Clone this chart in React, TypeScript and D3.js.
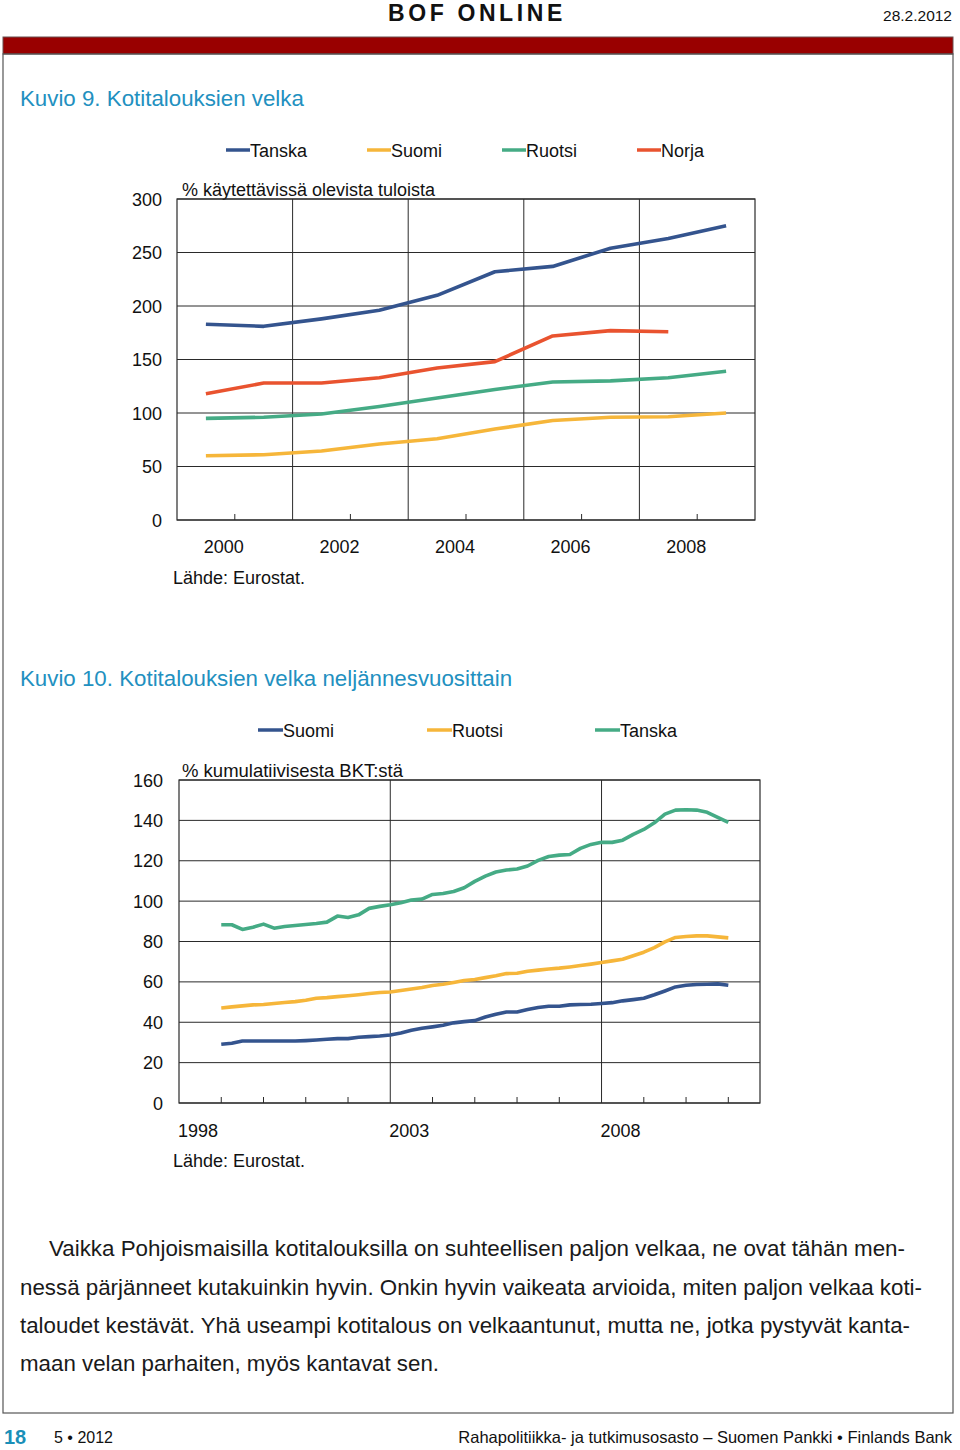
import React from "react";
import * as d3 from "d3";

// ---------- Chart 1 data (annual, % of disposable income) ----------
const years1 = ["2000", "2001", "2002", "2003", "2004", "2005", "2006", "2007", "2008", "2009"];
const xLabels1 = ["2000", "2002", "2004", "2006", "2008"];
const yTicks1 = [0, 50, 100, 150, 200, 250, 300];
const tanska1 = [183, 181, 188, 196, 210, 232, 237, 254, 263, 275];
const suomi1 = [60, 61, 64.5, 71, 76, 85, 93, 96, 96.5, 100];
const ruotsi1 = [95, 96, 99, 106, 114, 122, 129, 130, 133, 139];
const norja1 = [118, 128, 128, 133, 142, 148, 172, 177, 176];

// ---------- Chart 2 data (quarterly, % of cumulative GDP), 1999Q1..2011Q1 ----------
const xLabels2 = ["1998", "2003", "2008"];
const yTicks2 = [0, 20, 40, 60, 80, 100, 120, 140, 160];
const suomi2 = [
  29.1, 29.6, 30.7, 30.7, 30.7, 30.7, 30.7, 30.7, 30.9, 31.2, 31.6, 31.9, 31.9, 32.6, 32.9, 33.2, 33.7,
  34.7, 36.0, 37.0, 37.7, 38.5, 39.7, 40.3, 40.8, 42.6, 44.0, 45.1, 45.1, 46.3, 47.3, 47.9, 47.9, 48.6, 48.8, 48.9, 49.3,
  49.7, 50.6, 51.2, 51.9, 53.6, 55.5, 57.5, 58.3, 58.7, 58.8, 59.0, 58.3,
];
const ruotsi2 = [
  47.1, 47.6, 48.1, 48.6, 48.8, 49.3, 49.8, 50.2, 50.9, 51.9, 52.2, 52.7, 53.1, 53.6, 54.2, 54.7, 55.0,
  55.7, 56.5, 57.2, 58.2, 58.8, 59.7, 60.7, 61.2, 62.1, 63.0, 64.1, 64.3, 65.3, 65.8, 66.4, 66.8, 67.4, 68.1, 68.8, 69.6,
  70.4, 71.2, 72.9, 74.7, 77.0, 79.8, 82.0, 82.5, 82.8, 82.8, 82.3, 81.8,
];
const tanska2 = [
  88.3, 88.3, 86.0, 87.1, 88.6, 86.6, 87.4, 87.9, 88.4, 88.9, 89.6, 92.6, 91.9, 93.2, 96.4, 97.4, 98.2,
  99.2, 100.5, 101.0, 103.3, 103.8, 104.8, 106.6, 109.8, 112.4, 114.4, 115.4, 115.9, 117.4, 120.2, 122.1, 122.8, 123.1, 126.1, 128.1, 129.2,
  129.1, 130.2, 133.1, 135.5, 138.8, 143.1, 145.1, 145.3, 145.1, 144.0, 141.5, 139.0,
];

const paragraph = [
  "Vaikka Pohjoismaisilla kotitalouksilla on suhteellisen paljon velkaa, ne ovat tähän men-",
  "nessä pärjänneet kutakuinkin hyvin. Onkin hyvin vaikeata arvioida, miten paljon velkaa koti-",
  "taloudet kestävät. Yhä useampi kotitalous on velkaantunut, mutta ne, jotka pystyvät kanta-",
  "maan velan parhaiten, myös kantavat sen.",
];

const C_BLUE = "#34548e";
const C_YELLOW = "#f6b63a";
const C_GREEN = "#45ab85";
const C_RED = "#e9532f";
const C_TITLE = "#2290c0";
const FONT = "'Liberation Sans', Arial, Helvetica, sans-serif";
const GRID = "#2a2a2a";

function Chart1() {
  const L = 177, R = 755, T = 199, B = 520;
  const x = d3.scaleBand<string>().domain(years1).range([L, R]).padding(0);
  const bw = x.bandwidth();
  const y = d3.scaleLinear().domain([0, 300]).range([B, T]);
  const line = d3
    .line<number>()
    .x((_, i) => (x(years1[i]) as number) + bw / 2)
    .y((d) => y(d));
  const series = [
    { name: "Tanska", data: tanska1, color: C_BLUE, lx: 226 },
    { name: "Suomi", data: suomi1, color: C_YELLOW, lx: 367 },
    { name: "Ruotsi", data: ruotsi1, color: C_GREEN, lx: 502 },
    { name: "Norja", data: norja1, color: C_RED, lx: 637 },
  ];
  return (
    <g fontFamily={FONT}>
      {series.map((s) => (
        <g key={s.name}>
          <line x1={s.lx} x2={s.lx + 24} y1={150} y2={150} stroke={s.color} strokeWidth={3.5} />
          <text x={s.lx + 24} y={156.5} fontSize={18} fill="#111">
            {s.name}
          </text>
        </g>
      ))}
      <text x={182} y={196} fontSize={18} fill="#111">
        % käytettävissä olevista tuloista
      </text>
      {yTicks1.map((t) => (
        <g key={t}>
          <line x1={L} x2={R} y1={y(t)} y2={y(t)} stroke={GRID} strokeWidth={1} />
          <text x={162} y={y(t) + 6.5} fontSize={18} textAnchor="end" fill="#111">
            {t}
          </text>
        </g>
      ))}
      {years1.slice(1).map((yr, i) => {
        const xx = x(yr) as number;
        const major = (i + 1) % 2 === 0;
        return (
          <line
            key={yr}
            x1={xx}
            x2={xx}
            y1={major ? T : B - 6}
            y2={B}
            stroke={GRID}
            strokeWidth={1}
          />
        );
      })}
      <rect x={L} y={T} width={R - L} height={B - T} fill="none" stroke={GRID} strokeWidth={1.2} />
      {series.map((s) => (
        <path key={s.name} d={line(s.data) || ""} fill="none" stroke={s.color} strokeWidth={3.6} strokeLinejoin="round" />
      ))}
      {xLabels1.map((lb) => (
        <text key={lb} x={(x(lb) as number) + bw - 11} y={553} fontSize={18} textAnchor="middle" fill="#111">
          {lb}
        </text>
      ))}
      <text x={173} y={584} fontSize={18} fill="#111">
        Lähde: Eurostat.
      </text>
    </g>
  );
}

function Chart2() {
  const L = 179, R = 760, T = 780, B = 1103;
  const startQ = 4; // first observation one year after the axis start
  const x = d3.scaleLinear().domain([0, 55]).range([L, R]);
  const y = d3.scaleLinear().domain([0, 160]).range([B, T]);
  const line = d3
    .line<number>()
    .x((_, i) => x(startQ + i))
    .y((d) => y(d));
  const tickQs = d3.range(4, 53, 4);
  const series = [
    { name: "Suomi", data: suomi2, color: C_BLUE, lx: 258 },
    { name: "Ruotsi", data: ruotsi2, color: C_YELLOW, lx: 427 },
    { name: "Tanska", data: tanska2, color: C_GREEN, lx: 595 },
  ];
  return (
    <g fontFamily={FONT}>
      {series.map((s) => (
        <g key={s.name}>
          <line x1={s.lx} x2={s.lx + 25} y1={730} y2={730} stroke={s.color} strokeWidth={3.5} />
          <text x={s.lx + 25} y={736.5} fontSize={18} fill="#111">
            {s.name}
          </text>
        </g>
      ))}
      <text x={182} y={777} fontSize={18.5} fill="#111">
        % kumulatiivisesta BKT:stä
      </text>
      {yTicks2.map((t) => (
        <g key={t}>
          <line x1={L} x2={R} y1={y(t)} y2={y(t)} stroke={GRID} strokeWidth={1} />
          <text x={163} y={y(t) + 6.5} fontSize={18} textAnchor="end" fill="#111">
            {t}
          </text>
        </g>
      ))}
      {tickQs.map((q) => {
        const major = q % 20 === 0;
        return (
          <line key={q} x1={x(q)} x2={x(q)} y1={major ? T : B - 6} y2={B} stroke={GRID} strokeWidth={1} />
        );
      })}
      <rect x={L} y={T} width={R - L} height={B - T} fill="none" stroke={GRID} strokeWidth={1.2} />
      {series.map((s) => (
        <path key={s.name} d={line(s.data) || ""} fill="none" stroke={s.color} strokeWidth={3.6} strokeLinejoin="round" />
      ))}
      {xLabels2.map((lb, i) => (
        <text key={lb} x={x(i * 20) - 1} y={1137} fontSize={18} fill="#111">
          {lb}
        </text>
      ))}
      <text x={173} y={1167} fontSize={18} fill="#111">
        Lähde: Eurostat.
      </text>
    </g>
  );
}

export default function App() {
  const paraX = [49, 20, 20, 20];
  const paraW = [856, 902, 890, 419];
  const paraY = [1256, 1295, 1333, 1371];
  return (
    <svg
      width={960}
      height={1450}
      viewBox="0 0 960 1450"
      style={{ position: "absolute", left: 0, top: 0, background: "#fff" }}
      fontFamily={FONT}
    >
      <rect x={0} y={0} width={960} height={1450} fill="#fff" />
      {/* header */}
      <text x={477} y={21} fontSize={23} fontWeight="bold" textAnchor="middle" letterSpacing={3.6} fill="#111">
        BOF ONLINE
      </text>
      <text x={952} y={21} fontSize={15.5} textAnchor="end" fill="#111">
        28.2.2012
      </text>
      <rect x={3} y={37} width={950} height={17} fill="#990000" stroke="#6a5050" strokeWidth={1} />
      <rect x={3} y={54} width={950} height={1359} fill="none" stroke="#555" strokeWidth={1.2} />

      <text x={20} y={106} fontSize={22.3} fill={C_TITLE}>
        Kuvio 9. Kotitalouksien velka
      </text>
      <Chart1 />

      <text x={20} y={686} fontSize={22.3} fill={C_TITLE}>
        Kuvio 10. Kotitalouksien velka neljännesvuosittain
      </text>
      <Chart2 />

      {paragraph.map((ln, i) => (
        <text
          key={i}
          x={paraX[i]}
          y={paraY[i]}
          fontSize={22}
          fill="#1a1a1a"
          textLength={paraW[i]}
          lengthAdjust="spacingAndGlyphs"
        >
          {ln}
        </text>
      ))}

      {/* footer */}
      <text x={4} y={1444} fontSize={20} fontWeight="bold" fill="#1a8fb8">
        18
      </text>
      <text x={54} y={1443} fontSize={16} fill="#111">
        5 • 2012
      </text>
      <text x={952} y={1443} fontSize={16.5} textAnchor="end" fill="#111">
        Rahapolitiikka- ja tutkimusosasto – Suomen Pankki • Finlands Bank
      </text>
    </svg>
  );
}
